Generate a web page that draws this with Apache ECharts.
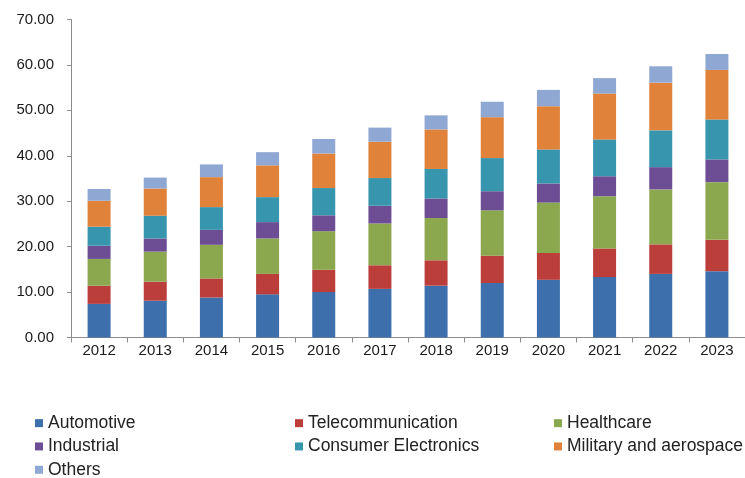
<!DOCTYPE html>
<html>
<head>
<meta charset="utf-8">
<script src="https://cdn.jsdelivr.net/npm/echarts@6/dist/echarts.min.js"></script>
<style>
  html, body { margin: 0; padding: 0; background: #fff; }
  #chart { width: 745px; height: 478px; }
</style>
</head>
<body>
<div id="chart"></div>
<script>
// Market size by application, 2012-2023
const years = ['2012', '2013', '2014', '2015', '2016', '2017', '2018', '2019', '2020', '2021', '2022', '2023'];
const automotive   = [7.4, 8.1, 8.8, 9.5, 10.0, 10.7, 11.4, 12.0, 12.7, 13.3, 14.0, 14.6];
const telecom      = [4.0, 4.2, 4.2, 4.5, 4.9, 5.2, 5.6, 6.0, 5.9, 6.3, 6.5, 6.9];
const healthcare   = [5.9, 6.6, 7.4, 7.8, 8.5, 9.2, 9.3, 10.0, 11.1, 11.5, 12.1, 12.7];
const industrial   = [2.9, 2.9, 3.3, 3.6, 3.5, 3.9, 4.3, 4.2, 4.2, 4.4, 4.9, 5.0];
const consumerElec = [4.2, 5.0, 5.0, 5.5, 6.0, 6.1, 6.5, 7.3, 7.5, 8.1, 8.1, 8.8];
const military     = [5.7, 6.0, 6.6, 7.0, 7.6, 8.0, 8.7, 9.0, 9.5, 10.1, 10.5, 10.9];
const others       = [2.6, 2.4, 2.8, 2.9, 3.2, 3.1, 3.1, 3.4, 3.6, 3.4, 3.6, 3.5];
const yTicks = { min: 0, max: 70, interval: 10 };

const seriesDefs = [
  ['Automotive', automotive, '#3d6fad'],
  ['Telecommunication', telecom, '#bb3e3b'],
  ['Healthcare', healthcare, '#8ba84e'],
  ['Industrial', industrial, '#6d4e94'],
  ['Consumer Electronics', consumerElec, '#3795ae'],
  ['Military and aerospace', military, '#e0823a'],
  ['Others', others, '#8fa7d3']
];

const legendFont = "'Liberation Sans', Arial, sans-serif";
const axisFont = "'Liberation Sans', Arial, sans-serif";

// one vertical legend per column, three columns side by side
function legendColumn(names, left) {
  return {
    orient: 'vertical',
    left: left,
    top: 411.5,
    height: 90,
    data: names,
    icon: 'rect',
    itemWidth: 8,
    itemHeight: 8,
    itemGap: 0,
    padding: 0,
    selectedMode: false,
    textStyle: { fontFamily: legendFont, fontSize: 17.5, color: '#222', lineHeight: 23.3 }
  };
}

const chart = echarts.init(document.getElementById('chart'), null, { renderer: 'canvas' });
chart.setOption({
  animation: false,
  backgroundColor: '#fff',
  grid: { left: 71, right: -9, top: 19.5, bottom: 140.5, containLabel: false },
  legend: [
    legendColumn(['Automotive', 'Industrial', 'Others'], 35),
    legendColumn(['Telecommunication', 'Consumer Electronics'], 295),
    legendColumn(['Healthcare', 'Military and aerospace'], 554)
  ],
  xAxis: {
    type: 'category',
    data: years,
    axisLine: { lineStyle: { color: '#8c8c8c', width: 1 } },
    axisTick: { show: true, length: 5, lineStyle: { color: '#8c8c8c' } },
    axisLabel: { fontFamily: axisFont, fontSize: 15, color: '#1a1a1a', margin: 6 }
  },
  yAxis: {
    type: 'value',
    min: yTicks.min,
    max: yTicks.max,
    interval: yTicks.interval,
    axisLine: { show: true, lineStyle: { color: '#8c8c8c', width: 1 } },
    axisTick: { show: true, length: 4, lineStyle: { color: '#8c8c8c' } },
    splitLine: { show: false },
    axisLabel: {
      fontFamily: axisFont, fontSize: 15, color: '#1a1a1a', margin: 17,
      formatter: v => v.toFixed(2)
    }
  },
  series: seriesDefs.map(([name, data, color]) => ({
    name: name,
    type: 'bar',
    stack: 'total',
    data: data,
    barWidth: 23,
    itemStyle: { color: color },
    emphasis: { disabled: true }
  }))
});
</script>
</body>
</html>
